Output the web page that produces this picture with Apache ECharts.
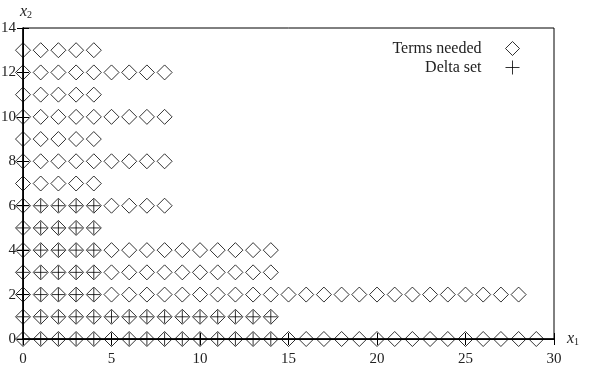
<!DOCTYPE html>
<html>
<head>
<meta charset="utf-8">
<script src="https://cdn.jsdelivr.net/npm/echarts@6/dist/echarts.min.js"></script>
<style>
  html, body { margin: 0; padding: 0; background: #fff; }
  #chart { width: 595px; height: 370px; }
</style>
</head>
<body>
<div id="chart"></div>
<script>
// row index = x2, value = last x1 of the row (points run from x1 = 0 up to it)
const termsRowEnd = [29, 14, 28, 14, 14, 4, 8, 4, 8, 4, 8, 4, 8, 4];
const deltaRowEnd = [14, 14, 4, 4, 4, 4, 4];
const xTicks = [0, 5, 10, 15, 20, 25, 30];
const yTicks = [0, 2, 4, 6, 8, 10, 12, 14];

const rowsToPoints = (ends) => {
    let pts = [];
    ends.forEach((end, y) => {
        for (let x = 0; x <= end; x++) pts.push([x, y]);
    });
    return pts;
};

const font = 'Liberation Serif';
const labelStyle = { fontFamily: font, fontSize: 15, color: '#222' };
const nameRich = {
    v: { fontFamily: font, fontStyle: 'italic', fontSize: 16, color: '#222' },
    s: { fontFamily: font, fontSize: 10, color: '#222', verticalAlign: 'bottom', padding: [7, 0, 0, 0] }
};
const legendText = { fontFamily: font, fontSize: 16, color: '#222', padding: [0, 19, 0, 0] };

let myChart = echarts.init(document.getElementById('chart'));

let option = {
    animation: false,
    backgroundColor: '#fff',
    grid: {
        left: 23, right: 41, top: 28, bottom: 31,
        outerBoundsMode: 'none',
        show: true, borderColor: '#000', borderWidth: 1
    },
    legend: [
        {
            data: ['Terms needed'], right: 68, top: 34, align: 'right',
            itemWidth: 14, itemHeight: 14,
            itemStyle: { borderWidth: 1 },
            textStyle: legendText
        },
        {
            data: ['Delta set'], right: 68, top: 53, align: 'right',
            itemWidth: 14, itemHeight: 14,
            itemStyle: { borderWidth: 1 },
            textStyle: legendText
        }
    ],
    xAxis: [
        {
            type: 'value', min: 0, max: 30, interval: 5,
            name: '{v|x}{s|1}', nameLocation: 'end', nameGap: 13,
            nameTextStyle: { rich: nameRich },
            axisLine: { lineStyle: { color: '#000', width: 1.5 } },
            axisTick: { inside: true, length: 6, lineStyle: { color: '#000' } },
            axisLabel: Object.assign({ margin: 13 }, labelStyle),
            splitLine: { show: false }
        },
        {
            type: 'value', min: 0, max: 30, interval: 5, position: 'top',
            axisLine: { lineStyle: { color: '#000' } },
            axisTick: { inside: true, length: 6, lineStyle: { color: '#000' } },
            axisLabel: { show: false },
            splitLine: { show: false }
        }
    ],
    yAxis: [
        {
            type: 'value', min: 0, max: 14, interval: 2,
            name: '{v|x}{s|2}', nameLocation: 'end', nameGap: 8,
            nameTextStyle: { rich: nameRich, align: 'center', padding: [0, 0, 0, 6] },
            axisLine: { lineStyle: { color: '#000', width: 1.5 } },
            axisTick: { inside: true, length: 6, lineStyle: { color: '#000' } },
            axisLabel: Object.assign({ margin: 7 }, labelStyle),
            splitLine: { show: false }
        },
        {
            type: 'value', min: 0, max: 14, interval: 2, position: 'right',
            axisLine: { lineStyle: { color: '#000' } },
            axisTick: { inside: true, length: 6, lineStyle: { color: '#000' } },
            axisLabel: { show: false },
            splitLine: { show: false }
        }
    ],
    series: [
        {
            name: 'Terms needed', type: 'scatter',
            symbol: 'diamond', symbolSize: 15,
            itemStyle: { color: 'none', borderColor: '#000', borderWidth: 1 },
            data: rowsToPoints(termsRowEnd)
        },
        {
            name: 'Delta set', type: 'scatter',
            symbol: 'path://M0,5L10,5M5,0L5,10', symbolSize: 13,
            itemStyle: { color: 'none', borderColor: '#000', borderWidth: 1 },
            data: rowsToPoints(deltaRowEnd)
        }
    ]
};

option && myChart.setOption(option);
</script>
</body>
</html>
